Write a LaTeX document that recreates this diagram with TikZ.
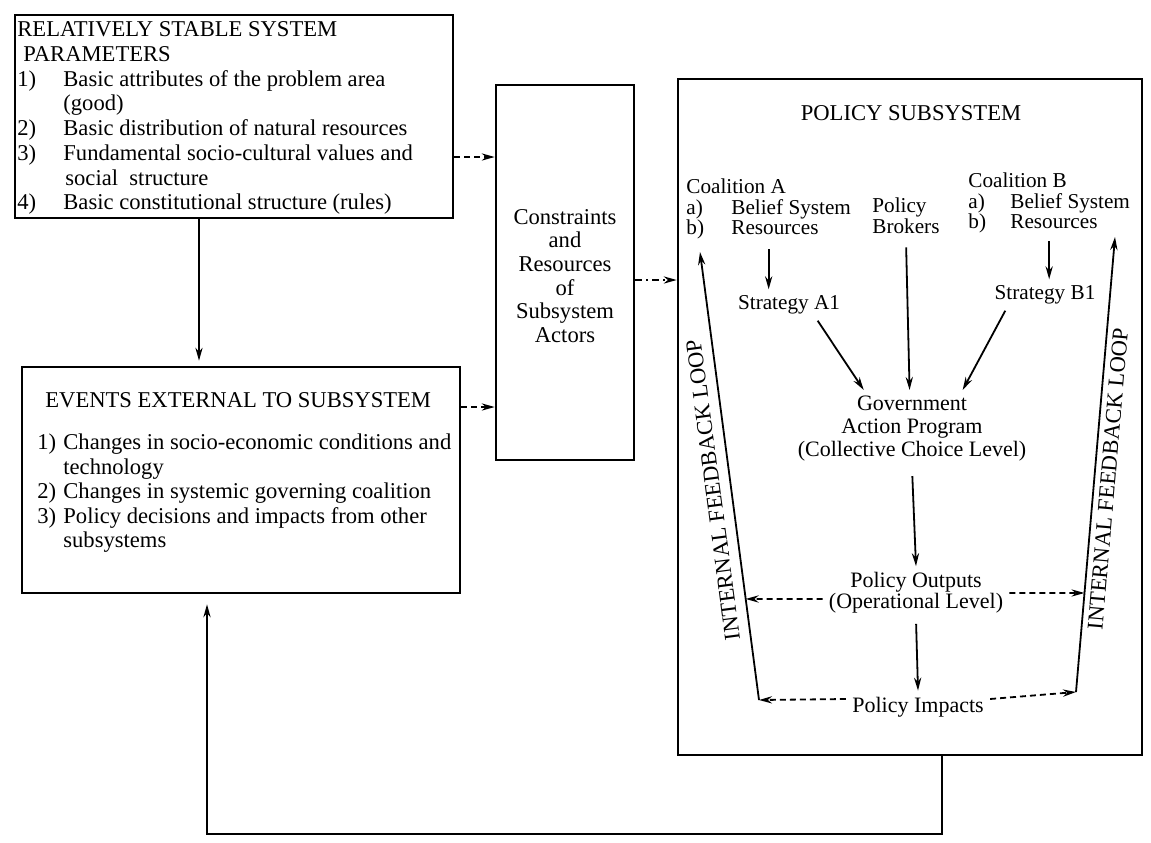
\documentclass[tikz,border=0pt]{standalone}
\usepackage{fontspec}
\setmainfont{Liberation Serif}
\usetikzlibrary{arrows.meta,calc,fit}
\begin{document}
\begin{tikzpicture}[x=0.5pt,y=-0.5pt,
  box/.style={draw, line width=1.3pt, inner sep=0pt},
  arr/.style={line width=0.9pt, -{Stealth[length=6.5pt,width=3.6pt]}},
  darr/.style={arr, dash pattern=on 3pt off 2pt},
  ddarr/.style={arr, dash pattern=on 3.5pt off 2pt on 1pt off 2pt},
  txt/.style={inner sep=0pt, font=\fontsize{11.3}{12.35}\selectfont},
  ptxt/.style={inner sep=0pt, font=\fontsize{10.6}{9.8}\selectfont},
  ctxt/.style={inner sep=0pt, font=\fontsize{11}{11.5}\selectfont, align=center},
]
\useasboundingbox (0,0) rectangle (1151,842);

% boxes
\node[box, fit={(15,15) (453,218)}] (params) {};
\node[box, fit={(22,367) (460,593)}] (events) {};
\node[box, fit={(496,85) (634,460)}] (cons) {};
\node[box, fit={(678,79) (1142,755)}] (policy) {};

% parameters text
\node[txt, anchor=north west] (paramtext) at (17,19.2) {\begin{tabular}{@{}p{23pt}@{}l@{}}
\multicolumn{2}{@{}l@{}}{RELATIVELY STABLE SYSTEM}\\
\multicolumn{2}{@{}l@{}}{\hspace{3pt}PARAMETERS}\\
1) & Basic attributes of the problem area\\
 & (good)\\
2) & Basic distribution of natural resources\\
3) & Fundamental socio-cultural values and\\
 & \hspace{1pt}social\hspace{0.5em}structure\\
4) & Basic constitutional structure (rules)
\end{tabular}};

% events text
\node[txt, anchor=base west] (evhead) at (45,407.5) {EVENTS EXTERNAL TO SUBSYSTEM};
\node[txt, font=\fontsize{11.3}{12.25}\selectfont, anchor=north west] (evlist) at (37,432.3) {\begin{tabular}{@{}p{13pt}@{}l@{}}
1) & Changes in socio-economic conditions and\\
 & technology\\
2) & Changes in systemic governing coalition\\
3) & Policy decisions and impacts from other\\
 & subsystems
\end{tabular}};

% constraints text
\node[txt, font=\fontsize{11.3}{11.8}\selectfont, align=center] (constext) at (565,276) {Constraints\\and\\Resources\\of\\Subsystem\\Actors};

% policy subsystem contents
\node[txt] (ptitle) at (911,113) {POLICY SUBSYSTEM};
\node[ptxt, anchor=north west] (coalA) at (686,178.3) {\begin{tabular}{@{}p{22.5pt}@{}l@{}}
\multicolumn{2}{@{}l@{}}{Coalition A}\\
a) & Belief System\\
b) & Resources
\end{tabular}};
\node[ptxt, anchor=north west] (brokers) at (872,197.3) {\begin{tabular}{@{}l@{}}Policy\\Brokers\end{tabular}};
\node[ptxt, anchor=north west] (coalB) at (968,172.3) {\begin{tabular}{@{}p{21pt}@{}l@{}}
\multicolumn{2}{@{}l@{}}{Coalition B}\\
a) & Belief System\\
b) & Resources
\end{tabular}};
\node[ptxt, inner sep=3pt] (stratA) at (789,305) {Strategy A1};
\node[ptxt, inner sep=3pt] (stratB) at (1045,295) {Strategy B1};
\node[ctxt, inner sep=3pt] (gov) at (912,429) {Government\\Action Program\\(Collective Choice Level)};
\node[ctxt, inner sep=3pt, font=\fontsize{11}{10.5}\selectfont] (outputs) at (916,593) {Policy Outputs\\(Operational Level)};
\node[ctxt, inner sep=3pt] (impacts) at (918,707) {Policy Impacts};

% feedback loop lines
\coordinate (LB) at (759,700);
\coordinate (LT) at (700,252);
\coordinate (RB) at (1076,692);
\coordinate (RT) at (1115,237);
\draw[arr] (LB) -- (LT);
\draw[arr] (RB) -- (RT);
\node[txt, rotate=97.5] (loopL) at (713,490) {INTERNAL FEEDBACK LOOP};
\node[txt, rotate=85.1] (loopR) at (1108,479) {INTERNAL FEEDBACK LOOP};

% arrows inside policy subsystem
\draw[arr, shorten <=4pt] (coalA.south) -- (coalA.south |- stratA.north);
\draw[arr, shorten <=3pt] (coalB.south) -- (coalB.south |- stratB.north);
\draw[arr, shorten <=4pt] (brokers.south) -- ($(gov.north west)!0.49!(gov.north east)$);
\draw[arr] ($(stratA.south)!0.5!(stratA.south east)$) -- ($(gov.north west)!0.3!(gov.north east)$);
\draw[arr] ($(stratB.south west)!0.15!(stratB.south east)$) -- ($(gov.north west)!0.71!(gov.north east)$);
\draw[arr, shorten <=4pt] (gov.south) -- (outputs.north);
\draw[arr, shorten <=2pt] (outputs.south) -- (impacts.north);
\draw[darr] ([yshift=-3pt]outputs.west) -- (intersection of LB--LT and {[yshift=-3pt]outputs.west}--{[yshift=-3pt]outputs.east});
\draw[darr] (outputs.east) -- (intersection of RB--RT and outputs.west--outputs.east);
\draw[darr] ([yshift=4pt]impacts.west) -- (LB);
\draw[darr] ([yshift=4pt]impacts.east) -- (RB);

% arrows between boxes
\draw[arr, shorten >=2.5pt] ([xshift=-17.5pt]params.south) -- ([xshift=-17.5pt]params.south |- events.north);
\draw[darr] ([yshift=-20.25pt]params.east) -- ([yshift=-20.25pt]params.east -| cons.west);
\draw[darr] ([yshift=36.5pt]events.east) -- ([yshift=36.5pt]events.east -| cons.west);
\draw[ddarr] ([yshift=-3.75pt]cons.east) -- ([yshift=-3.75pt]cons.east -| policy.west);
\draw[arr, shorten >=5pt] ([xshift=16pt]policy.south) -- ++(0,78) -| ([xshift=-17pt]events.south);
\end{tikzpicture}
\end{document}
